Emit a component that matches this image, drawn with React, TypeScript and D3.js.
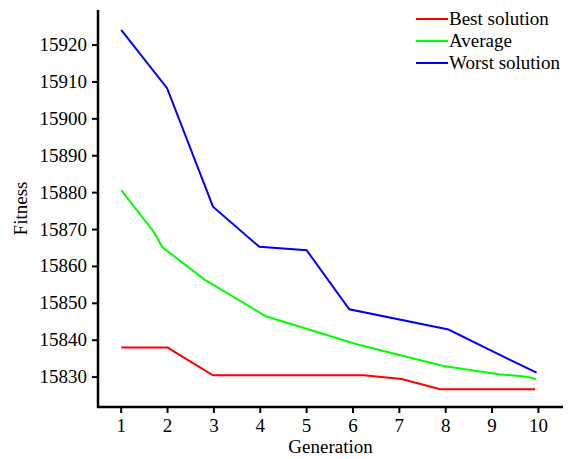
import { scaleLinear, line } from "d3";

// generation / fitness
const bestGen = [1, 2, 2.98, 6.23, 7.05, 7.88, 9.93];
const bestFit = [15838.0, 15838.0, 15830.5, 15830.5, 15829.5, 15826.7, 15826.7];

const avgGen = [1, 1.7, 1.89, 2.79, 4.12, 6.08, 7.95, 9.14, 9.75, 9.95];
const avgFit = [15880.7, 15869.4, 15865.2, 15856.5, 15846.5, 15838.9, 15833.0, 15830.8, 15830.1, 15829.5];

const worstGen = [1, 1.99, 2.98, 3.98, 5.0, 5.92, 8.06, 8.96, 9.96];
const worstFit = [15924.1, 15908.3, 15876.2, 15865.3, 15864.4, 15848.4, 15842.9, 15837.3, 15831.2];

const xTicks = [1, 2, 3, 4, 5, 6, 7, 8, 9, 10];
const yTicks = [15830, 15840, 15850, 15860, 15870, 15880, 15890, 15900, 15910, 15920];

const seriesNames = ["Best solution", "Average", "Worst solution"];
const seriesColors = ["#ff0000", "#00ff00", "#0000ff"];

const txt = { fontFamily: "'Liberation Serif', serif", fontSize: 19 };

export default function App() {
    const width = 570;
    const height = 459;
    const left = 98, right = 563, top = 10, bottom = 407;

    const x = scaleLinear().domain([0.5, 10.53]).range([left, right]);
    const y = scaleLinear().domain([15821.9, 15929.5]).range([bottom, top]);

    const path = line<[number, number]>().x(d => x(d[0])).y(d => y(d[1]));
    const series = [
        bestGen.map((g, i) => [g, bestFit[i]] as [number, number]),
        avgGen.map((g, i) => [g, avgFit[i]] as [number, number]),
        worstGen.map((g, i) => [g, worstFit[i]] as [number, number]),
    ];

    return (
        <svg width={width} height={height} style={{ position: "absolute", left: 0, top: 0, background: "white" }}>
            {/* lines */}
            {series.map((s, i) => (
                <path key={i} d={path(s) || ""} fill="none" stroke={seriesColors[i]} strokeWidth={2} />
            ))}

            {/* y axis */}
            <line x1={left} x2={left} y1={top} y2={bottom + 1} stroke="black" strokeWidth={2.5} />
            {yTicks.map(t => (
                <g key={t}>
                    <line x1={left - 6} x2={left} y1={y(t)} y2={y(t)} stroke="black" strokeWidth={2} />
                    <text x={left - 11} y={y(t) + 6} textAnchor="end" style={txt}>{String(t)}</text>
                </g>
            ))}

            {/* x axis */}
            <line x1={left - 1} x2={right} y1={bottom} y2={bottom} stroke="black" strokeWidth={2.5} />
            {xTicks.map(t => (
                <g key={t}>
                    <line x1={x(t)} x2={x(t)} y1={bottom} y2={bottom + 6} stroke="black" strokeWidth={2} />
                    <text x={x(t)} y={bottom + 25} textAnchor="middle" style={txt}>{String(t)}</text>
                </g>
            ))}

            <text x={(left + right) / 2} y={453} textAnchor="middle" style={txt}>Generation</text>
            <text transform={`translate(27, ${(top + bottom) / 2}) rotate(-90)`} textAnchor="middle" style={txt}>Fitness</text>

            {/* legend */}
            {seriesNames.map((n, i) => (
                <g key={n} transform={`translate(416, ${19 + i * 22})`}>
                    <line x1={0} x2={32} y1={0} y2={0} stroke={seriesColors[i]} strokeWidth={2} />
                    <text x={33} y={6} style={txt}>{n}</text>
                </g>
            ))}
        </svg>
    );
}
